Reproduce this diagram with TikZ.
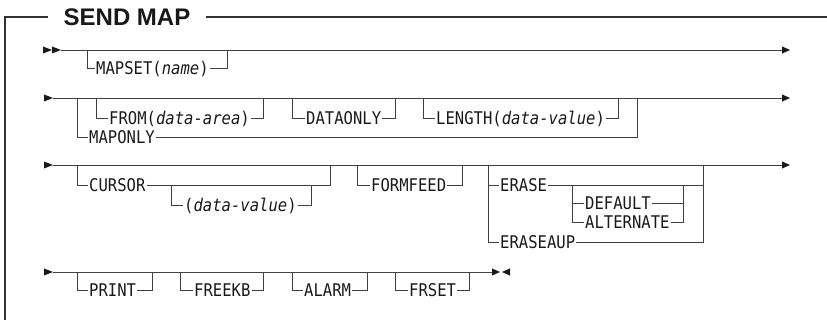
\documentclass[tikz,border=0pt]{standalone}
\usepackage{fontspec}
\newfontfamily\kwfamily[FakeStretch=0.89]{DejaVu Sans Mono}
\newfontfamily\ttlfamily{Liberation Sans}
\newcommand\kwfont{\kwfamily\fontsize{17.5}{19}\selectfont}
\newcommand\ttlfont{\ttlfamily\bfseries\fontsize{24}{26}\selectfont}
\tikzset{
  rr/.style={line width=0.9pt, draw=black!75},
  frm/.style={line width=1.3pt, draw=black!80},
  kw/.style={anchor=west, inner xsep=1pt, inner ysep=0pt, text height=12.7pt, text depth=0pt, font=\kwfont, text=black!90},
  tipfill/.style={fill=black!90, draw=none}
}
\begin{document}
\begin{tikzpicture}[x=1pt,y=-1pt]
\useasboundingbox (0,0) rectangle (827,320);
% frame
\coordinate (fbot) at (5,320);
\coordinate (ftl) at (5,17);
\coordinate (ftr) at (827,17);
\node[font=\ttlfont, inner xsep=15pt, inner ysep=0pt, text=black!90] (title) at (127,17.5) {SEND MAP};
\draw[frm] (fbot) -- (ftl) -- (title.west |- ftl);
\draw[frm] (title.east |- ftr) -- (ftr);

% ===== Row 1 =====
\coordinate (r1s) at (61,50); \coordinate (r1e) at (790,50);
\fill[tipfill] (43,46.5) -- (52,50) -- (43,53.5) -- cycle;
\fill[tipfill] (52,46.5) -- (61,50) -- (52,53.5) -- cycle;
\draw[rr] (r1s) -- ([xshift=-6pt]r1e);
\fill[tipfill] (r1e) -- ++(-8,-3.6) -- ++(0,7.2) -- cycle;
\coordinate (b1a) at (87,50); \coordinate (b1b) at (227,50);
\node[kw] (mapset) at (95,68) {MAPSET(\textit{name})};
\draw[rr] (b1a) |- (mapset.west);
\draw[rr] (mapset.east) -| (b1b);

% ===== Row 2 =====
\coordinate (r2s) at (53,98); \coordinate (r2e) at (790,98);
\fill[tipfill] (44,94.5) -- (53,98) -- (44,101.5) -- cycle;
\draw[rr] (r2s) -- ([xshift=-6pt]r2e);
\fill[tipfill] (r2e) -- ++(-8,-3.6) -- ++(0,7.2) -- cycle;
\coordinate (o2a) at (77,98); \coordinate (o2b) at (637,98);
\node[kw] (maponly) at (88,137) {MAPONLY};
\draw[rr] (o2a) |- (maponly.west);
\draw[rr] (maponly.east) -| (o2b);
\coordinate (f2a) at (96,98); \coordinate (f2b) at (263,98);
\node[kw] (from) at (108,118) {FROM(\textit{data-area})};
\draw[rr] (f2a) |- (from.west);
\draw[rr] (from.east) -| (f2b);
\coordinate (d2a) at (292,98); \coordinate (d2b) at (395,98);
\node[kw] (dataonly) at (305,118) {DATAONLY};
\draw[rr] (d2a) |- (dataonly.west);
\draw[rr] (dataonly.east) -| (d2b);
\coordinate (l2a) at (423,98); \coordinate (l2b) at (618,98);
\node[kw] (length) at (435,118) {LENGTH(\textit{data-value})};
\draw[rr] (l2a) |- (length.west);
\draw[rr] (length.east) -| (l2b);

% ===== Row 3 =====
\coordinate (r3s) at (53,165); \coordinate (r3e) at (790,165);
\fill[tipfill] (44,161.5) -- (53,165) -- (44,168.5) -- cycle;
\draw[rr] (r3s) -- ([xshift=-6pt]r3e);
\fill[tipfill] (r3e) -- ++(-8,-3.6) -- ++(0,7.2) -- cycle;
\coordinate (c3a) at (77,165); \coordinate (c3b) at (330,165);
\node[kw] (cursor) at (88,185) {CURSOR};
\draw[rr] (c3a) |- (cursor.west);
\draw[rr] (cursor.east) -| (c3b);
\coordinate (v3a) at (171,185); \coordinate (v3b) at (311,185);
\node[kw] (cval) at (183,205) {(\textit{data-value})};
\draw[rr] (v3a) |- (cval.west);
\draw[rr] (cval.east) -| (v3b);
\coordinate (ff3a) at (357,165); \coordinate (ff3b) at (462,165);
\node[kw] (formfeed) at (370,185) {FORMFEED};
\draw[rr] (ff3a) |- (formfeed.west);
\draw[rr] (formfeed.east) -| (ff3b);
% erase group
\coordinate (e3a) at (488,165); \coordinate (e3b) at (703,165);
\node[kw] (erase) at (499,185) {ERASE};
\node[kw] (eraseaup) at (499,242) {ERASEAUP};
\coordinate (ee3) at (703,185);
\draw[rr] (e3a) |- (eraseaup.west);
\draw[rr] (e3a |- erase.west) -- (erase.west);
\draw[rr] (erase.east) -- (ee3);
\draw[rr] (eraseaup.east) -| (e3b);
\coordinate (n3a) at (572,185); \coordinate (n3b) at (683,185);
\node[kw] (default) at (584,203) {DEFAULT};
\node[kw] (alternate) at (584,222) {ALTERNATE};
\draw[rr] (n3a) |- (alternate.west);
\draw[rr] (n3a |- default.west) -- (default.west);
\draw[rr] (alternate.east) -| (n3b);
\draw[rr] (default.east) -- (n3b |- default.east);

% ===== Row 4 =====
\coordinate (r4s) at (53,272); \coordinate (r4e) at (500,272);
\fill[tipfill] (44,268.5) -- (53,272) -- (44,275.5) -- cycle;
\draw[rr] (r4s) -- ([xshift=-6pt]r4e);
\fill[tipfill] (r4e) -- ++(-8,-3.6) -- ++(0,7.2) -- cycle;
\fill[tipfill] (502,272) -- (510,268.4) -- (510,275.6) -- cycle;
\coordinate (p4a) at (77,272); \coordinate (p4b) at (152,272);
\node[kw] (print) at (88,290) {PRINT};
\draw[rr] (p4a) |- (print.west);
\draw[rr] (print.east) -| (p4b);
\coordinate (k4a) at (180,272); \coordinate (k4b) at (263,272);
\node[kw] (freekb) at (193,290) {FREEKB};
\draw[rr] (k4a) |- (freekb.west);
\draw[rr] (freekb.east) -| (k4b);
\coordinate (a4a) at (292,272); \coordinate (a4b) at (367,272);
\node[kw] (alarm) at (303,290) {ALARM};
\draw[rr] (a4a) |- (alarm.west);
\draw[rr] (alarm.east) -| (a4b);
\coordinate (s4a) at (395,272); \coordinate (s4b) at (469,272);
\node[kw] (frset) at (408,290) {FRSET};
\draw[rr] (s4a) |- (frset.west);
\draw[rr] (frset.east) -| (s4b);
\end{tikzpicture}
\end{document}
